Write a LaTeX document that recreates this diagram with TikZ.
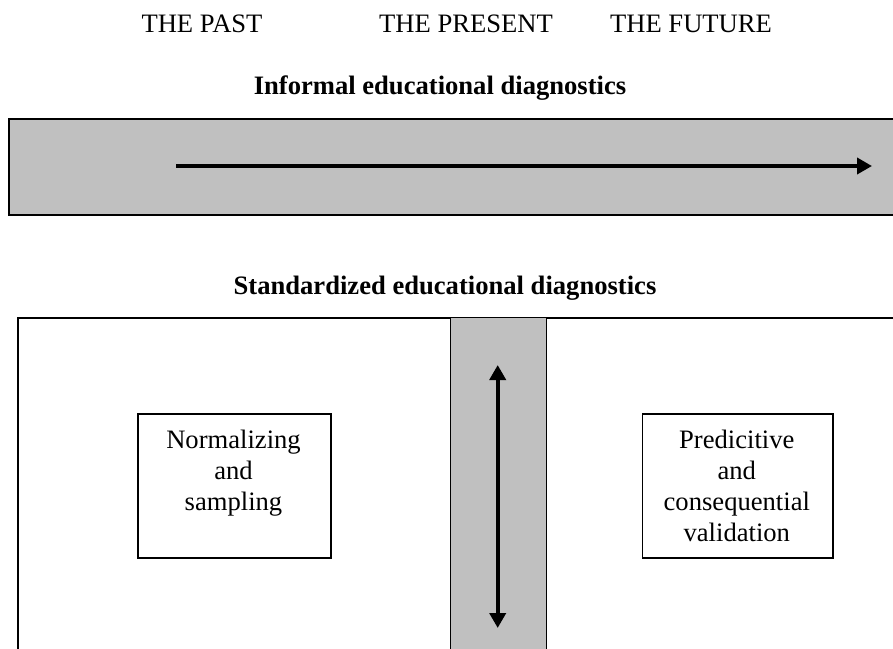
\documentclass[tikz,border=0pt]{standalone}
\usepackage{fontspec}
\setmainfont{Liberation Serif}
\usetikzlibrary{arrows.meta}
\definecolor{bandgray}{HTML}{C0C0C0}
\begin{document}
\begin{tikzpicture}[x=1pt,y=-1pt,
  lbl/.style={font=\fontsize{26.6}{31}\selectfont, inner sep=0pt, outer sep=0pt},
  ttl/.style={font=\fontsize{26.6}{31}\selectfont\bfseries, inner sep=0pt, outer sep=0pt},
  band/.style={fill=bandgray, draw=black, line width=2pt, inner sep=0pt, anchor=north west},
  frame/.style={fill=white, draw=black, line width=2pt, inner sep=0pt, anchor=north west},
  bar/.style={fill=bandgray, draw=black, line width=1.3pt, inner sep=0pt, anchor=north west},
  boxx/.style={fill=white, draw=black, line width=1.6pt, inner sep=0pt, anchor=north west},
  arr/.style={line width=4pt, -{Triangle[length=15pt,width=16pt]}},
  darr/.style={line width=4pt, {Triangle[length=15pt,width=16pt]}-{Triangle[length=15pt,width=16pt]}}
]
\useasboundingbox (0,0) rectangle (893,648);
\fill[white] (0,0) rectangle (893,648);
\clip (0,0) rectangle (893,648);

% time labels
\node[lbl, anchor=base] (past) at (202,32.5) {THE PAST};
\node[lbl, anchor=base] (present) at (466,32.5) {THE PRESENT};
\node[lbl, anchor=base] (future) at (691,32.5) {THE FUTURE};

% informal band
\node[ttl, anchor=base] (inftitle) at (440,94) {Informal educational diagnostics};
\node[band, minimum width=920pt, minimum height=96pt] (informal) at (7.5,117.5) {};
\coordinate (hs) at (176,166);
\coordinate (he) at (872,166);
\draw[arr] (hs) -- (he);

% standardized
\node[ttl, anchor=base] (stdtitle) at (445,294.5) {Standardized educational diagnostics};
\node[frame, minimum width=920pt, minimum height=400pt] (std) at (17,317) {};
\node[bar, minimum width=95.7pt, minimum height=400pt] (mid) at (450,317) {};
\coordinate (vt) at (497.7,365);
\coordinate (vb) at (497.7,628);
\draw[darr] (vt) -- (vb);

% boxes
\node[boxx, minimum width=193pt, minimum height=144pt] (b1) at (137,413) {};
\node[lbl, anchor=north, align=center] (t1) at (233.5,430) {Normalizing\\and\\sampling};
\node[boxx, minimum width=190.3pt, minimum height=144pt] (b2) at (641.7,413) {};
\node[lbl, anchor=north, align=center] (t2) at (736.8,430) {Predicitive\\and\\consequential\\validation};
\end{tikzpicture}
\end{document}
